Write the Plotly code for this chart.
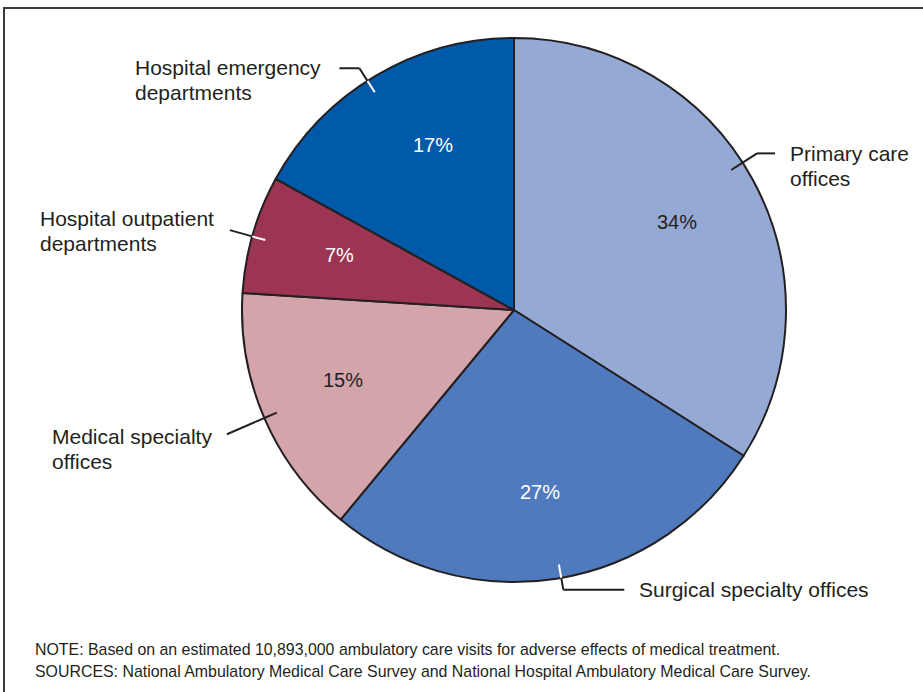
import math
import plotly.graph_objects as go

# ---- data ----
categories = ["Primary care offices", "Surgical specialty offices", "Medical specialty offices",
              "Hospital outpatient departments", "Hospital emergency departments"]
label_lines = [["Primary care", "offices"], ["Surgical specialty offices"], ["Medical specialty", "offices"],
               ["Hospital outpatient", "departments"], ["Hospital emergency", "departments"]]
percents = [34, 27, 15, 7, 17]
colors = ["#95a9d5", "#4f7abd", "#d4a4ab", "#9b3552", "#005aa9"]
pct_text_colors = ["#231f20", "#ffffff", "#231f20", "#ffffff", "#ffffff"]
tick_colors = ["#231f20", "#ffffff", "#231f20", "#ffffff", "#ffffff"]
# leader styling: angle nudge (deg), outer radius factor, horizontal run (px), label vertical offset (px)
leader_nudge = [-4, -1, 0, -0.5, -2]
leader_outer = [1.063, 1.044, 1.15, 1.085, 1.055]
leader_run = [18, 61, 0, 0, -20]
label_dy = [0, 0, 2, -12, -1]
# left edge (px) of the left-hand labels' text block
label_left = [None, None, 50, 38, 133]
# small nudges (px) of the percentage labels
pct_dx = [2, -3, -3, 2, 12]
pct_dy = [0, 1, -3, -4, -7]

note_lines = [
    "NOTE: Based on an estimated 10,893,000 ambulatory care visits for adverse effects of medical treatment.",
    "SOURCES: National Ambulatory Medical Care Survey and National Hospital Ambulatory Medical Care Survey.",
]

W, H = 923, 692
CX, CY, R = 514, 310, 272
TXT = "#231f20"
FONT = "Liberation Sans, Arial, Helvetica, sans-serif"
LINE_GAP = 25


def px(x):
    return x / W


def py(y):
    return 1 - y / H


def polar(angle_deg, rfac):
    a = math.radians(angle_deg)
    return CX + R * rfac * math.sin(a), CY - R * rfac * math.cos(a)


fig = go.Figure(go.Pie(
    labels=categories, values=percents, sort=False, direction="clockwise", rotation=0,
    marker=dict(colors=colors, line=dict(color="#231f20", width=2)),
    textinfo="none", hoverinfo="label+percent", showlegend=False,
    domain=dict(x=[px(CX - R), px(CX + R)], y=[py(CY + R), py(CY - R)]),
))

total = sum(percents)
cum = 0
shapes = []
annotations = []
for i, v in enumerate(percents):
    start = cum / total * 360
    cum += v
    end = cum / total * 360
    mid = (start + end) / 2
    # percentage label
    tx, ty = polar(mid, 0.675)
    annotations.append(dict(x=px(tx + pct_dx[i]), y=py(ty + pct_dy[i]), xref="paper", yref="paper",
                            text=f"{v}%", xanchor="center", yanchor="middle",
                            showarrow=False, font=dict(size=20, color=pct_text_colors[i], family=FONT)))
    # leader line
    ang = mid + leader_nudge[i]
    x0, y0 = polar(ang, 0.95)
    x1, y1 = polar(ang, 1.0)
    x2, y2 = polar(ang, leader_outer[i])
    x3, y3 = x2 + leader_run[i], y2
    shapes.append(dict(type="line", xref="paper", yref="paper", x0=px(x0), y0=py(y0), x1=px(x1), y1=py(y1),
                       line=dict(color=tick_colors[i], width=2)))
    shapes.append(dict(type="line", xref="paper", yref="paper", x0=px(x1), y0=py(y1), x1=px(x2), y1=py(y2),
                       line=dict(color=TXT, width=2)))
    if leader_run[i] != 0:
        shapes.append(dict(type="line", xref="paper", yref="paper", x0=px(x2), y0=py(y2), x1=px(x3), y1=py(y3),
                           line=dict(color=TXT, width=2)))
    right = x3 > CX
    lx = x3 + 13 if right else label_left[i]
    for k, line in enumerate(label_lines[i]):
        annotations.append(dict(
            x=px(lx), y=py(y3 + label_dy[i] + LINE_GAP * k),
            xref="paper", yref="paper", xanchor="left", yanchor="middle",
            text=line, showarrow=False, font=dict(size=21, color=TXT, family=FONT)))

for k, line in enumerate(note_lines):
    annotations.append(dict(x=px(33), y=py(649 + 22 * k), xref="paper", yref="paper", xanchor="left",
                            yanchor="middle", text=line, showarrow=False,
                            font=dict(size=15.9, color=TXT, family=FONT)))

# outer frame
shapes.append(dict(type="rect", xref="paper", yref="paper", x0=px(4), y0=py(H + 10), x1=px(W + 10), y1=py(8),
                   line=dict(color="#3a3a3a", width=2), fillcolor="rgba(0,0,0,0)", layer="below"))

fig.update_layout(width=W, height=H, margin=dict(l=0, r=0, t=0, b=0),
                  paper_bgcolor="white", plot_bgcolor="white",
                  shapes=shapes, annotations=annotations)
fig.write_html("out.html", config={"displayModeBar": False},
               post_script="document.body.style.margin='0';")
